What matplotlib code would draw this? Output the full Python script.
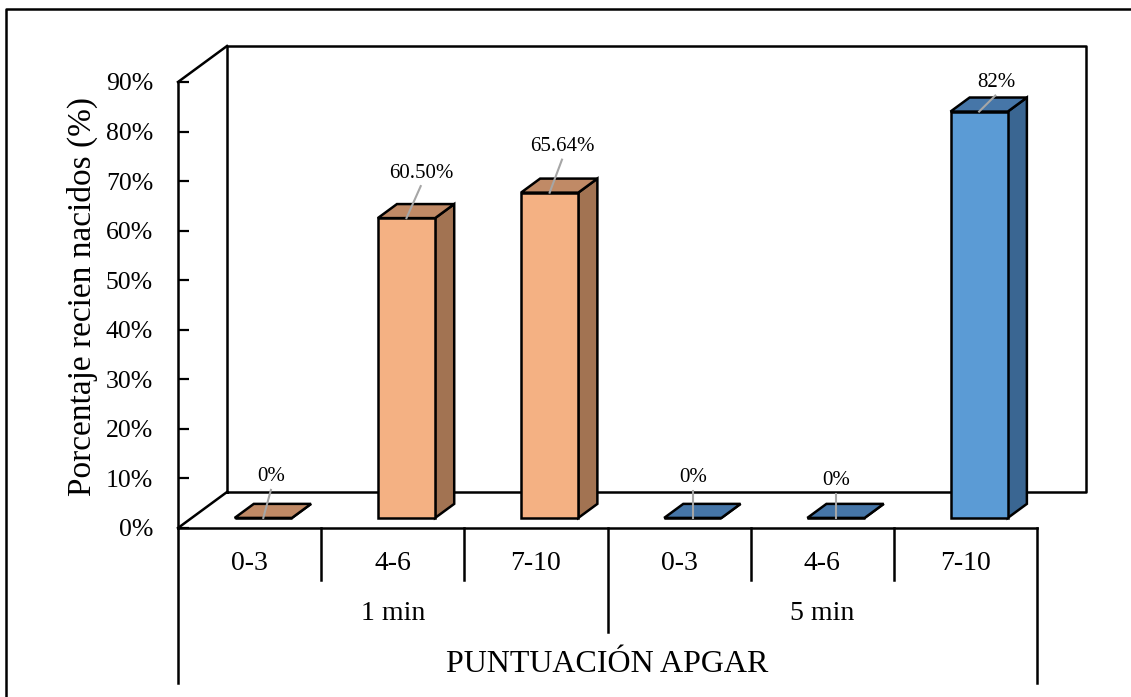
import matplotlib
matplotlib.use("Agg")
import matplotlib.pyplot as plt
from matplotlib.patches import Polygon
from matplotlib.lines import Line2D
import matplotlib.transforms as mtransforms

plt.rcParams['font.family'] = ['Liberation Serif', 'DejaVu Serif']

# Data
groups = ["1 min", "5 min"]
scores = ["0-3", "4-6", "7-10", "0-3", "4-6", "7-10"]
values = [0.0, 60.50, 65.64, 0.0, 0.0, 82.0]
value_labels = ["0%", "60.50%", "65.64%", "0%", "0%", "82%"]
group_of_bar = [0, 0, 0, 1, 1, 1]
yticks = [0, 10, 20, 30, 40, 50, 60, 70, 80, 90]
ylabel = "Porcentaje recien nacidos (%)"
xlabel = "PUNTUACIÓN APGAR"

# Styling
face_colors = [
    {"front": "#F4B183", "side": "#A27352", "top": "#C08A66"},
    {"front": "#5B9BD5", "side": "#3A6692", "top": "#4676A8"},
]
label_offsets = [(8, 41), (15, 45), (13, 46), (0, 40), (0, 37), (17, 29)]  # pixels
LW = 1.8

W, H = 1131, 697
fig = plt.figure(figsize=(W / 100, H / 100), dpi=100)
ax_left, ax_right, ax_bottom, ax_top = 178, 1037, 528, 82
ax = fig.add_axes([ax_left / W, 1 - ax_bottom / H, (ax_right - ax_left) / W, (ax_bottom - ax_top) / H])
n = len(values)
ax.set_xlim(0, n)
ax.set_ylim(0, 90)
for s in ["top", "right"]:
    ax.spines[s].set_visible(False)
for s in ["left", "bottom"]:
    ax.spines[s].set_linewidth(LW)
    ax.spines[s].set_color("black")
ax.set_xticks([])
ax.set_yticks(yticks)
ax.set_yticklabels([f"{t}%" for t in yticks], fontsize=18.5)
ax.tick_params(axis="y", direction="in", length=8, width=1.6, pad=18)
ax.patch.set_alpha(0)

# depth vector of the 3D box, in data units
px_per_x = (ax_right - ax_left) / n
px_per_y = (ax_bottom - ax_top) / 90
DX = 49 / px_per_x
DY = 36 / px_per_y
d_front, d_back = 0.28, 0.67
bar_w = 0.40


def P(x, v, d):
    return (x + d * DX, v + d * DY)


lk = dict(color="black", lw=LW, clip_on=False, solid_capstyle="projecting")
# back wall
corners = [P(0, 0, 1), P(0, 90, 1), P(n, 90, 1), P(n, 0, 1), P(0, 0, 1)]
ax.add_line(Line2D([p[0] for p in corners], [p[1] for p in corners], zorder=1, **lk))
# side diagonals
ax.add_line(Line2D([0, P(0, 90, 1)[0]], [90, P(0, 90, 1)[1]], zorder=1, **lk))
ax.add_line(Line2D([0, P(0, 0, 1)[0]], [0, P(0, 0, 1)[1]], zorder=1, **lk))

# bars
for i, (v, g) in enumerate(zip(values, group_of_bar)):
    c = i + 0.5
    x0, x1 = c - bar_w / 2, c + bar_w / 2
    col = face_colors[g]
    side = [P(x1, 0, d_front), P(x1, 0, d_back), P(x1, v, d_back), P(x1, v, d_front)]
    top = [P(x0, v, d_front), P(x1, v, d_front), P(x1, v, d_back), P(x0, v, d_back)]
    front = [P(x0, 0, d_front), P(x1, 0, d_front), P(x1, v, d_front), P(x0, v, d_front)]
    for poly, key in [(side, "side"), (top, "top"), (front, "front")]:
        ax.add_patch(Polygon(poly, closed=True, facecolor=col[key], edgecolor="black",
                             lw=LW, joinstyle="miter", zorder=3, clip_on=False))
    # value label with leader line
    ox, oy = label_offsets[i]
    bx, by = P(c, v, d_front)
    base = ax.transData.transform((bx, by))
    lab = ax.transData.inverted().transform((base[0] + ox, base[1] + oy))
    end = ax.transData.inverted().transform((base[0] + ox * 0.95, base[1] + oy - 13))
    ax.add_line(Line2D([bx, end[0]], [by, end[1]], color="#A6A6A6", lw=1.5, zorder=4, clip_on=False))
    ax.text(lab[0], lab[1], value_labels[i], ha="center", va="center", fontsize=15, zorder=5)

# category axis labels and separators
tb = mtransforms.blended_transform_factory(ax.transData, ax.transAxes)
ah = ax_bottom - ax_top


def ya(ypx):
    return -(ypx - ax_bottom) / ah


for i in range(n + 1):
    if i in (0, n):
        yend = 683
    elif i == 3:
        yend = 632
    else:
        yend = 580
    ax.add_line(Line2D([i, i], [0, ya(yend)], transform=tb, color="black", lw=LW, clip_on=False))
for i, s in enumerate(scores):
    ax.text(i + 0.5, ya(563), s, transform=tb, ha="center", va="center", fontsize=20)
for gi, gname in enumerate(groups):
    ax.text(gi * 3 + 1.5, ya(614), gname, transform=tb, ha="center", va="center", fontsize=20)
ax.text(n / 2, ya(665), xlabel, transform=tb, ha="center", va="center", fontsize=23)

fig.text(82 / W, 1 - 296 / H, ylabel, rotation=90, ha="center", va="center", fontsize=24)

# outer frame
fig.add_artist(Line2D([6 / W, 6 / W, 1.01], [-0.01, 1 - 9 / H, 1 - 9 / H], transform=fig.transFigure,
                      color="black", lw=LW))

fig.savefig("out.png", dpi=100)
